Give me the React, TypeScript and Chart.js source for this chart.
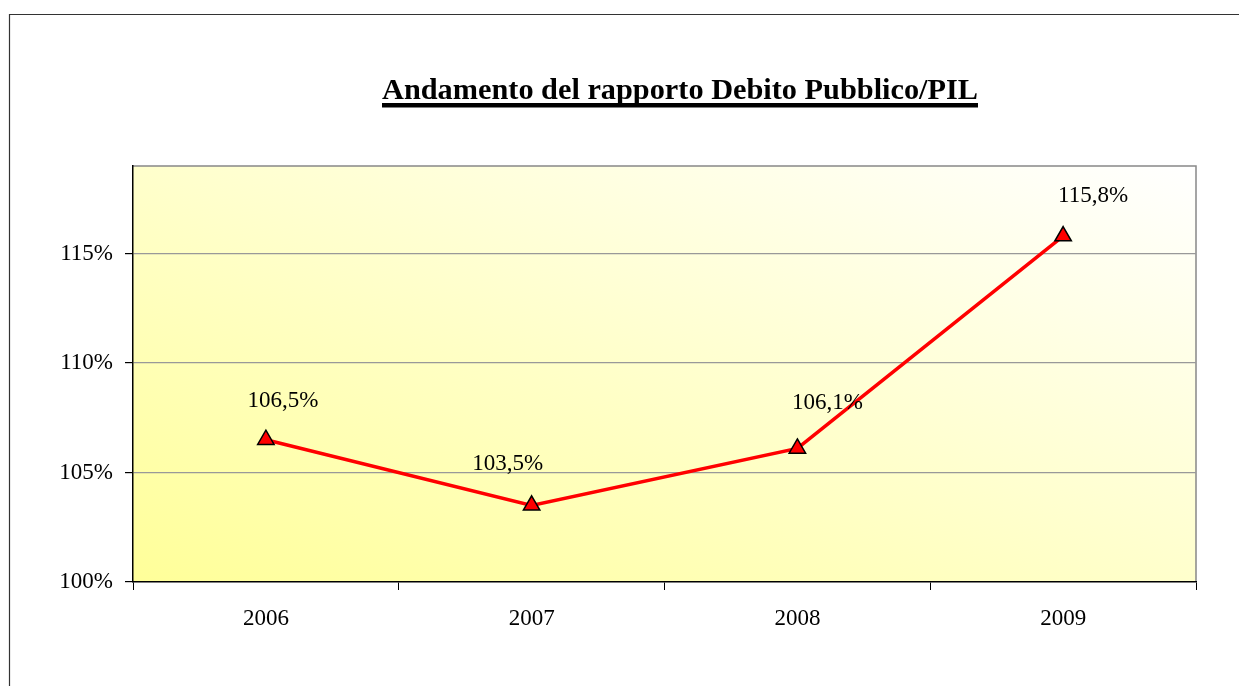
import React, { useEffect, useRef } from "react";
import { Chart, registerables } from "chart.js";

Chart.register(...registerables);

const TITLE = "Andamento del rapporto Debito Pubblico/PIL";
const YEARS = ["2006", "2007", "2008", "2009"];
const DEBT_RATIO = [106.5, 103.5, 106.1, 115.8];
const Y_MIN = 100;
const Y_MAX = 119;
const Y_STEP = 5;

const fmt = (v: number) => v.toFixed(1).replace(".", ",") + "%";

const SERIF = "'Liberation Serif', 'Times New Roman', serif";

const bgPlugin = {
  id: "bgPlugin",
  beforeDraw(chart: any) {
    const { ctx, chartArea: a } = chart;
    ctx.save();
    // outer frame
    ctx.strokeStyle = "#333";
    ctx.lineWidth = 1.2;
    ctx.beginPath();
    ctx.moveTo(9.5, 700);
    ctx.lineTo(9.5, 14.5);
    ctx.lineTo(1250, 14.5);
    ctx.stroke();
    // gradient plot background (diagonal in normalized space)
    const W = a.right - a.left;
    const H = a.bottom - a.top;
    ctx.save();
    ctx.translate(a.left, a.top);
    ctx.scale(W, H);
    const g = ctx.createLinearGradient(0, 1, 1, 0);
    g.addColorStop(0, "#FFFF99");
    g.addColorStop(0.5, "#FFFFCC");
    g.addColorStop(1, "#FFFFFF");
    ctx.fillStyle = g;
    ctx.fillRect(0, 0, 1, 1);
    ctx.restore();
    // top & right plot border
    ctx.strokeStyle = "#888";
    ctx.lineWidth = 1.5;
    ctx.beginPath();
    ctx.moveTo(a.left, a.top);
    ctx.lineTo(a.right, a.top);
    ctx.lineTo(a.right, a.bottom);
    ctx.stroke();
    // title
    ctx.fillStyle = "#000";
    ctx.font = `bold 30px ${SERIF}`;
    const w = ctx.measureText(TITLE).width;
    const targetW = 596;
    const cx = 680;
    ctx.translate(cx, 99);
    ctx.scale(targetW / w, 1);
    ctx.textAlign = "center";
    ctx.textBaseline = "alphabetic";
    ctx.fillText(TITLE, 0, 0);
    ctx.setTransform(1, 0, 0, 1, 0, 0);
    ctx.fillRect(cx - targetW / 2, 103, targetW, 4.5);
    ctx.restore();
  },
};

const labelPlugin = {
  id: "labelPlugin",
  afterDatasetsDraw(chart: any, _args: any, opts: any) {
    const { ctx } = chart;
    const meta = chart.getDatasetMeta(0);
    ctx.save();
    ctx.fillStyle = "#000";
    ctx.font = `23px ${SERIF}`;
    ctx.textAlign = "center";
    ctx.textBaseline = "middle";
    meta.data.forEach((pt: any, i: number) => {
      const dx = opts.dx[i] ?? 0;
      const dy = opts.dy[i] ?? -40;
      ctx.fillText(fmt(DEBT_RATIO[i]), pt.x + dx, pt.y + dy);
    });
    ctx.restore();
  },
};

export default function App() {
  const ref = useRef<HTMLCanvasElement>(null);
  useEffect(() => {
    if (!ref.current) return;
    const chart = new Chart(ref.current, {
      type: "line",
      data: {
        labels: YEARS,
        datasets: [
          {
            data: DEBT_RATIO,
            borderColor: "#FF0000",
            borderWidth: 3.5,
            pointStyle: "triangle",
            pointRadius: 9.5,
            pointBackgroundColor: "#FF0000",
            pointBorderColor: "#000",
            pointBorderWidth: 1.5,
            tension: 0,
          },
        ],
      },
      options: {
        animation: false,
        responsive: false,
        layout: { padding: { left: 43, top: 166, right: 43, bottom: 54 } },
        plugins: {
          legend: { display: false },
          tooltip: { enabled: false },
          title: { display: false },
          labelPlugin: { dx: [17, -24, 30, 30], dy: [-39, -41, -45, -40] },
        } as any,
        scales: {
          x: {
            type: "category",
            offset: true,
            grid: {
              offset: true,
              drawOnChartArea: false,
              drawTicks: true,
              tickLength: 8,
              tickColor: "#000",
              color: "#000",
            },
            border: { display: true, color: "#000", width: 1.5 },
            ticks: {
              color: "#000",
              font: { family: SERIF, size: 23 },
              padding: 15,
            },
            afterFit: (s: any) => {
              s.height = 50;
            },
          },
          y: {
            min: Y_MIN,
            max: Y_MAX,
            afterBuildTicks: (s: any) => {
              s.ticks = s.ticks.filter((t: any) => t.value % Y_STEP === 0);
            },
            ticks: {
              stepSize: Y_STEP,
              color: "#000",
              font: { family: SERIF, size: 23 },
              padding: 12,
              callback: (v: any) => v + "%",
            },
            grid: {
              color: (c: any) => (c.tick && c.tick.value === Y_MIN ? "rgba(0,0,0,0)" : "#999"),
              lineWidth: 1.2,
              tickLength: 8,
              tickColor: "#000",
            },
            border: { display: true, color: "#000", width: 1.5 },
            afterFit: (s: any) => {
              s.width = 90;
            },
          },
        },
      },
      plugins: [bgPlugin, labelPlugin],
    });
    return () => chart.destroy();
  }, []);
  return (
    <div style={{ position: "absolute", left: 0, top: 0, width: 1239, height: 686, background: "#fff" }}>
      <canvas ref={ref} width={1239} height={686} style={{ display: "block" }} />
    </div>
  );
}
